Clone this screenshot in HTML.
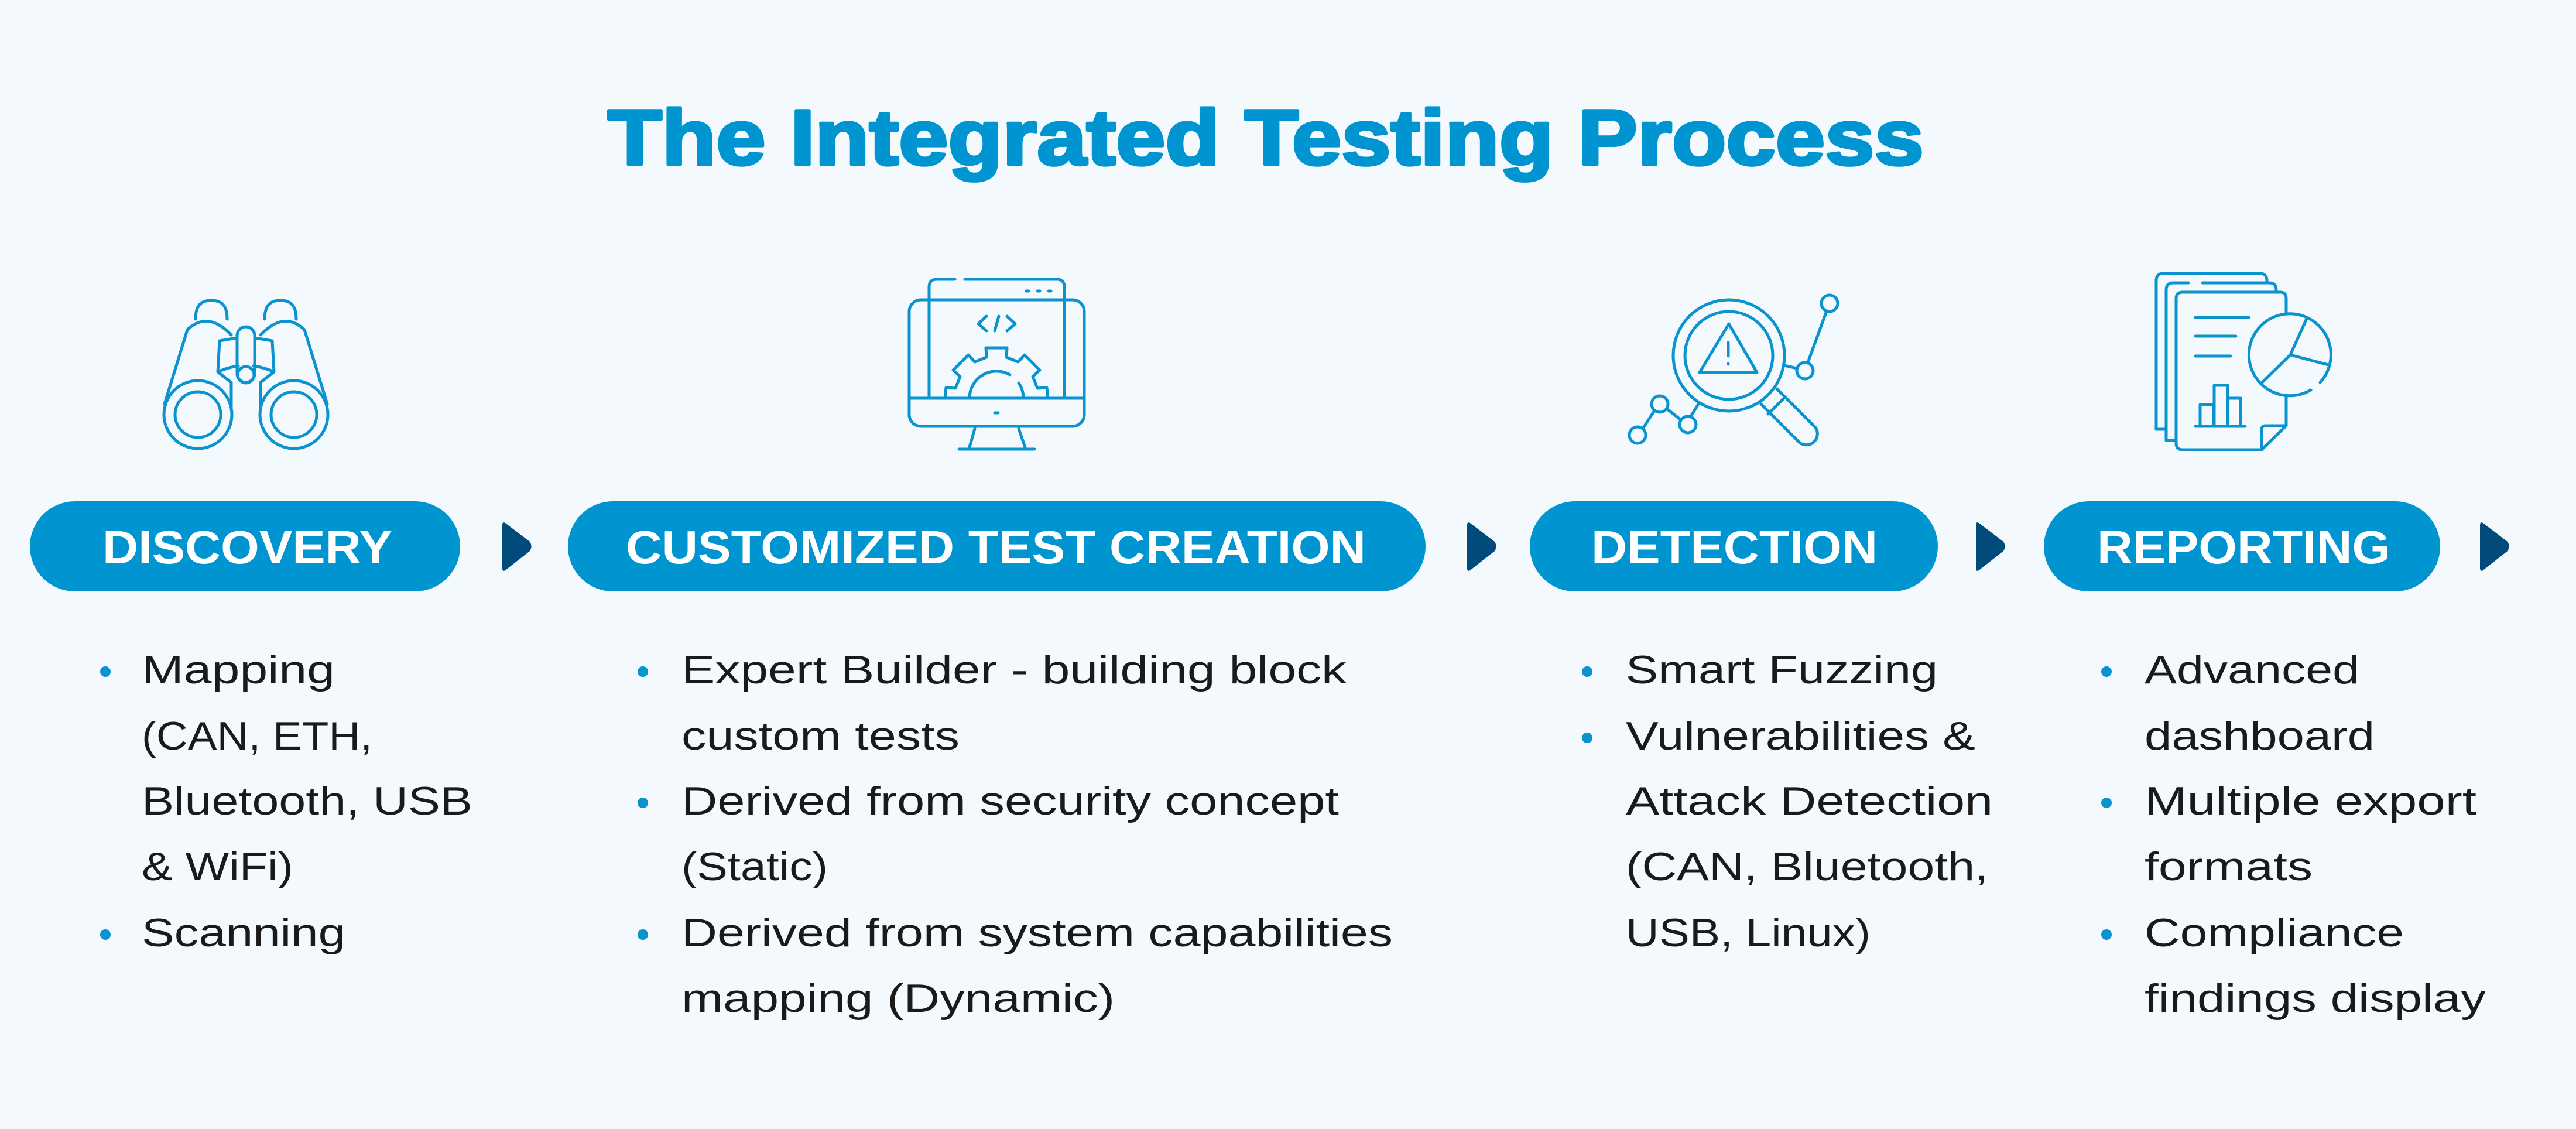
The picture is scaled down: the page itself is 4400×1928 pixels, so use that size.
<!DOCTYPE html>
<html><head><meta charset="utf-8"><style>
html,body{margin:0;padding:0;background:#f4f9fd;}
svg{display:block;}
text{font-family:"Liberation Sans",Arial,sans-serif;}
</style></head><body>
<svg width="4400" height="1928" viewBox="0 0 4400 1928" xmlns="http://www.w3.org/2000/svg">
<rect width="4400" height="1928" fill="#f4f9fd"/>
<text x="1038" y="281" font-size="134" font-weight="bold" fill="#0095d0" stroke="#0095d0" stroke-width="5" stroke-linejoin="round" textLength="2248" lengthAdjust="spacingAndGlyphs">The Integrated Testing Process</text>

<g fill="none" stroke="#0a93cf" stroke-width="5" stroke-linecap="round" stroke-linejoin="round">
<!-- binoculars -->
<path d="M334,545 C334,520 345,513 361,513 C377,513 388,520 388,545"/>
<path d="M452,545 C452,520 463,513 479,513 C495,513 506,520 506,545"/>
<path d="M281,690 L320,563 Q355,530 395,572"/>
<path d="M559,690 L520,563 Q485,530 445,572"/>
<circle cx="338" cy="708" r="58"/><circle cx="338" cy="708" r="39"/>
<circle cx="502" cy="708" r="58"/><circle cx="502" cy="708" r="39"/>
<rect x="405" y="558" width="30" height="95" rx="15"/>
<circle cx="420" cy="640" r="14"/>
<path d="M405,577 L375,582 L372,635 L395,653 L395,700"/>
<path d="M435,577 L465,582 L468,635 L445,653 L445,700"/>
<path d="M372,635 Q390,627 407,625"/><path d="M468,635 Q450,627 433,625"/>
<!-- monitor -->
<path d="M1631,477 L1600,477 Q1587,477 1587,490 L1587,680"/>
<path d="M1648,477 L1805,477 Q1818,477 1818,490 L1818,680"/>
<rect x="1553" y="512" width="299" height="216" rx="20"/>
<line x1="1553" y1="680" x2="1852" y2="680"/>
<line x1="1699" y1="705" x2="1705" y2="705"/>
<line x1="1753" y1="497" x2="1757" y2="497"/><line x1="1772" y1="497" x2="1776" y2="497"/><line x1="1791" y1="497" x2="1795" y2="497"/>
<path d="M1665,732 L1655,767 M1740,732 L1752,767 M1638,767 L1767,767"/>
<path d="M1685,540 L1671,553 L1685,565 M1706,540 L1699,565 M1720,540 L1734,553 L1720,565"/>
<path d="M1614,680 L1616,662 L1632,663 L1640,643 L1628,632 L1654,606 L1665,618 L1685,610 L1684,594 L1720,594 L1719,610 L1739,618 L1750,606 L1776,632 L1764,643 L1772,663 L1788,662 L1790,680"/>
<path d="M1656,680 A46,46 0 0 1 1725,640"/><path d="M1740,654 A46,46 0 0 1 1748,680"/>
<!-- magnifier -->
<circle cx="2953" cy="607" r="95"/><circle cx="2953" cy="607" r="75"/>
<path d="M2953,553 L3001,636 L2903,636 Z"/>
<line x1="2952" y1="585" x2="2952" y2="608"/><line x1="2952" y1="621" x2="2952" y2="622"/>
<path d="M3008,690 L3074,756 A19,19 0 0 0 3101,730 L3035,664"/>
<line x1="3020" y1="707" x2="3048" y2="679"/>
<circle cx="3125" cy="518" r="14"/><circle cx="3083" cy="633" r="14"/>
<circle cx="2835" cy="690" r="14"/><circle cx="2883" cy="725" r="14"/><circle cx="2797" cy="743" r="14"/>
<path d="M3120,531 L3088,619 M3069,629 L3048,624 M2888,711 L2901,690 M2847,698 L2871,717 M2806,732 L2826,701"/>
<!-- report -->
<path d="M3683,733 L3683,479 Q3683,467 3695,467 L3860,467 Q3872,467 3872,479 L3872,483" fill="#f4f9fd"/>
<path d="M3700,752 L3700,495 Q3700,483 3712,483 L3738,483 M3762,483 L3876,483 Q3888,483 3888,495 L3888,499" />
<line x1="3683" y1="733" x2="3700" y2="733"/>
<path d="M3700,752 L3717,752"/>
<path d="M3717,510 Q3717,499 3728,499 L3895,499 Q3905,499 3905,510 L3905,727 L3863,768 L3728,768 Q3717,768 3717,757 Z" fill="#f4f9fd"/>
<path d="M3905,727 L3870,727 Q3863,727 3863,734 L3863,768"/>
<path d="M3750,542 L3841,542 M3750,574 L3819,574 M3750,608 L3810,608 M3750,728 L3835,728"/>
<path d="M3758,728 L3758,691 L3781,691 L3781,728 M3782,728 L3782,658 L3805,658 L3805,728 M3805,680 L3827,680 L3827,728"/>
<circle cx="3912" cy="606" r="70" fill="#f4f9fd" stroke="none"/>
<path d="M3963,653 A70,70 0 1 0 3947,666"/>
<path d="M3940,544 L3912,606 L3977,623 M3912,606 L3863,654"/>
</g>

<!-- pills -->
<g fill="#0095d0">
<rect x="51" y="856" width="735" height="154" rx="77"/>
<rect x="970" y="856" width="1465" height="154" rx="77"/>
<rect x="2613" y="856" width="697" height="154" rx="77"/>
<rect x="3491" y="856" width="677" height="154" rx="77"/>
</g>
<g fill="#ffffff" font-size="80" font-weight="bold">
<text x="175" y="962" textLength="495" lengthAdjust="spacingAndGlyphs">DISCOVERY</text>
<text x="1069" y="962" textLength="1264" lengthAdjust="spacingAndGlyphs">CUSTOMIZED TEST CREATION</text>
<text x="2718" y="962" textLength="489" lengthAdjust="spacingAndGlyphs">DETECTION</text>
<text x="3582" y="962" textLength="501" lengthAdjust="spacingAndGlyphs">REPORTING</text>
</g>
<g fill="#004a7c">
<path d="M863,893 L905,925 Q910,933 905,941 L863,974 Q858,977 858,970 L858,897 Q858,890 863,893 Z"/>
<path d="M2511,893 L2553,925 Q2558,933 2553,941 L2511,974 Q2506,977 2506,970 L2506,897 Q2506,890 2511,893 Z"/>
<path d="M3380,893 L3422,925 Q3427,933 3422,941 L3380,974 Q3375,977 3375,970 L3375,897 Q3375,890 3380,893 Z"/>
<path d="M4241,893 L4283,925 Q4288,933 4283,941 L4241,974 Q4236,977 4236,970 L4236,897 Q4236,890 4241,893 Z"/>
</g>

<!-- bullets -->
<g fill="#0a93cf">
<circle cx="180" cy="1147" r="9"/><circle cx="180" cy="1596" r="9"/>
<circle cx="1098" cy="1147" r="9"/><circle cx="1098" cy="1371" r="9"/><circle cx="1098" cy="1596" r="9"/>
<circle cx="2711" cy="1147" r="9"/><circle cx="2711" cy="1260" r="9"/>
<circle cx="3598" cy="1147" r="9"/><circle cx="3598" cy="1371" r="9"/><circle cx="3598" cy="1596" r="9"/>
</g>
<g fill="#1a1a1a" font-size="68">
<text x="242" y="1167" textLength="330" lengthAdjust="spacingAndGlyphs">Mapping</text>
<text x="242" y="1280" textLength="394" lengthAdjust="spacingAndGlyphs">(CAN, ETH,</text>
<text x="242" y="1391" textLength="565" lengthAdjust="spacingAndGlyphs">Bluetooth, USB</text>
<text x="242" y="1503" textLength="259" lengthAdjust="spacingAndGlyphs">&amp; WiFi)</text>
<text x="242" y="1616" textLength="348" lengthAdjust="spacingAndGlyphs">Scanning</text>

<text x="1164" y="1167" textLength="1136" lengthAdjust="spacingAndGlyphs">Expert Builder - building block</text>
<text x="1164" y="1280" textLength="475" lengthAdjust="spacingAndGlyphs">custom tests</text>
<text x="1164" y="1391" textLength="1123" lengthAdjust="spacingAndGlyphs">Derived from security concept</text>
<text x="1164" y="1503" textLength="250" lengthAdjust="spacingAndGlyphs">(Static)</text>
<text x="1164" y="1616" textLength="1215" lengthAdjust="spacingAndGlyphs">Derived from system capabilities</text>
<text x="1164" y="1728" textLength="740" lengthAdjust="spacingAndGlyphs">mapping (Dynamic)</text>

<text x="2777" y="1167" textLength="533" lengthAdjust="spacingAndGlyphs">Smart Fuzzing</text>
<text x="2777" y="1280" textLength="597" lengthAdjust="spacingAndGlyphs">Vulnerabilities &amp;</text>
<text x="2777" y="1391" textLength="627" lengthAdjust="spacingAndGlyphs">Attack Detection</text>
<text x="2777" y="1503" textLength="619" lengthAdjust="spacingAndGlyphs">(CAN, Bluetooth,</text>
<text x="2777" y="1616" textLength="418" lengthAdjust="spacingAndGlyphs">USB, Linux)</text>

<text x="3663" y="1167" textLength="367" lengthAdjust="spacingAndGlyphs">Advanced</text>
<text x="3663" y="1280" textLength="393" lengthAdjust="spacingAndGlyphs">dashboard</text>
<text x="3663" y="1391" textLength="567" lengthAdjust="spacingAndGlyphs">Multiple export</text>
<text x="3663" y="1503" textLength="287" lengthAdjust="spacingAndGlyphs">formats</text>
<text x="3663" y="1616" textLength="443" lengthAdjust="spacingAndGlyphs">Compliance</text>
<text x="3663" y="1728" textLength="583" lengthAdjust="spacingAndGlyphs">findings display</text>
</g>
</svg>
</body></html>
